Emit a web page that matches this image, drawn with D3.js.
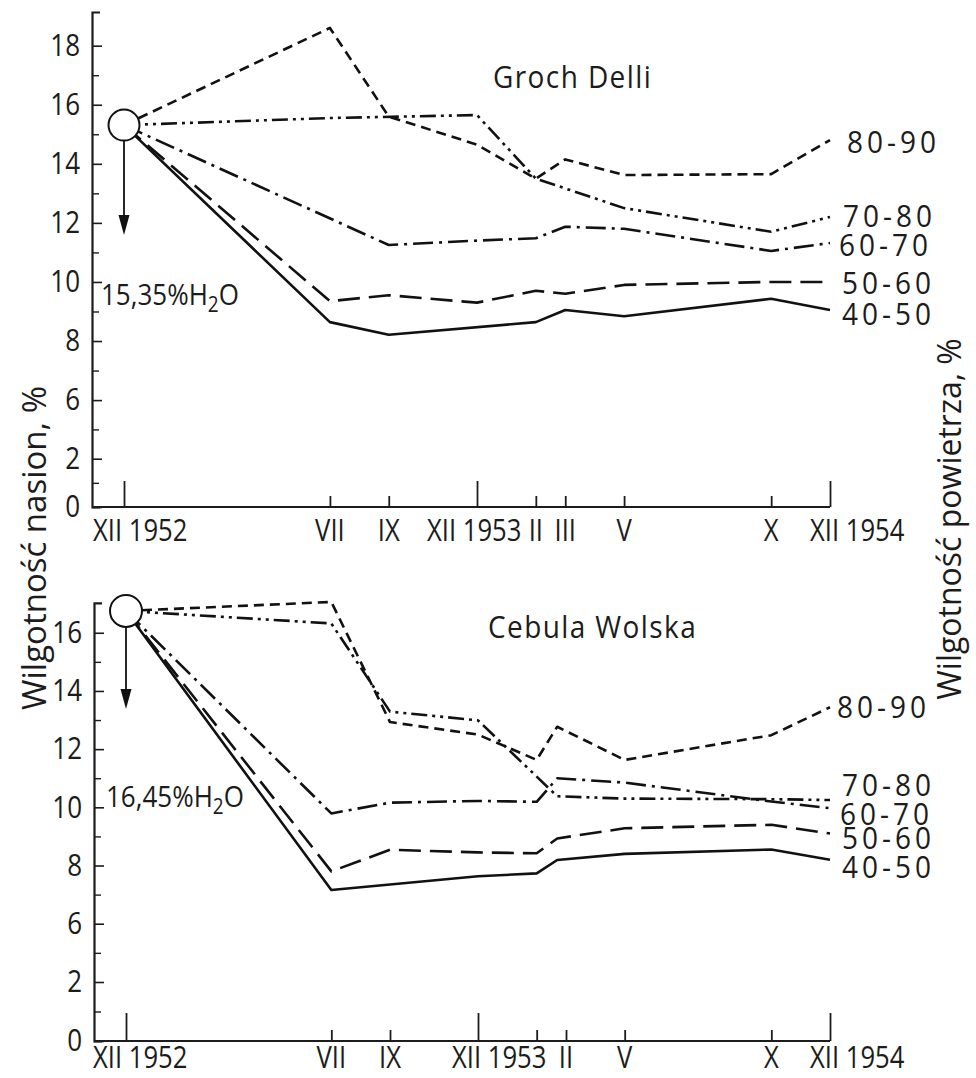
<!DOCTYPE html>
<html><head><meta charset="utf-8">
<script src="https://cdn.jsdelivr.net/npm/d3@7"></script>
<style>
body{margin:0;background:#fff}
svg{display:block}
text{font-family:"Open Sans","DejaVu Sans",sans-serif;fill:#1c1c1c}
</style>
</head><body>
<svg id="chart" width="976" height="1078"></svg>
<script>
// ---------- data ----------
const humidityClasses = ["40-50", "50-60", "60-70", "70-80", "80-90"];

// Groch Delli (top panel) – months counted from XII 1952
const monthsGroch = [0, 7, 9, 12, 14, 15, 17, 22, 24];
const groch4050 = [15.31, 8.64, 8.21, null, 8.64, 9.05, 8.84, 9.43, 9.05];
const groch5060 = [15.31, 9.35, 9.55, 9.30, 9.70, 9.60, 9.90, 10.0, 10.0];
const groch6070 = [15.31, null, 11.25, 11.40, 11.48, 11.87, 11.80, 11.05, 11.32];
const groch7080 = [15.31, 15.55, null, 15.65, 13.50, null, 12.50, 11.70, 12.20];
const groch8090 = [15.31, 18.60, 15.60, 14.65, 13.50, 14.15, 13.62, 13.65, 14.80];

// Cebula Wolska (bottom panel)
const monthsCebula = [0, 7, 9, 12, 14, 14.7, 17, 22, 24];
const cebula4050 = [16.75, 7.16, null, 7.63, 7.73, 8.19, 8.40, 8.55, 8.20];
const cebula5060 = [16.75, 7.80, 8.54, 8.45, 8.42, 8.93, 9.28, 9.40, 9.10];
const cebula6070 = [16.75, 9.79, 10.16, 10.22, 10.19, 11.00, 10.85, 10.20, 9.97];
const cebula7080 = [16.75, 16.32, 13.29, 12.99, null, 10.38, 10.30, 10.28, 10.25];
const cebula8090 = [16.75, 17.06, 12.93, 12.50, 11.63, 12.77, 11.63, 12.48, 13.44];

// axis ticks
const xTickMonths = [0, 7, 9, 12, 14, 15, 17, 22, 24];
const xYearMonths = [0, 12, 24];
const xLabelMonthsGroch = [0, 7, 9, 12, 14, 15, 17, 22, 24];
const xLabelsGroch = ["XII 1952", "VII", "IX", "XII 1953", "II", "III", "V", "X", "XII 1954"];
const xLabelMonthsCebula = [0, 7, 9, 12, 15, 17, 22, 24];
const xLabelsCebula = ["XII 1952", "VII", "IX", "XII 1953", "II", "V", "X", "XII 1954"];
const yMajorGroch = [0, 2, 6, 8, 10, 12, 14, 16, 18];
const yMinorGroch = [1, 4, 7, 9, 11, 13, 15, 17];
const yMajorCebula = [0, 2, 6, 8, 10, 12, 14, 16];
const yMinorCebula = [1, 4, 7, 9, 11, 13, 15];

const titleGroch = "Groch Delli";
const titleCebula = "Cebula Wolska";
const initialGroch = "15,35";
const initialCebula = "16,45";
const yTitleLeft = "Wilgotność nasion, %";
const yTitleRight = "Wilgotność powietrza, %";

// ---------- styles ----------
const dashes = {"40-50": null, "50-60": "22,9", "60-70": "20,6,3,6", "70-80": "16,5,3,5,3,5", "80-90": "10,6"};
const SY = 1.18; // tall, narrow technical lettering

const svg = d3.select("#chart");

function addText(g, x, y, str, size, opts = {}) {
  const sx = opts.sx || 1, sy = opts.sy || 1;
  return g.append("text")
    .attr("transform", `translate(${x},${y}) scale(${sx},${sy})`)
    .attr("text-anchor", opts.anchor || "start")
    .style("font-size", size + "px")
    .style("letter-spacing", (opts.ls || 0) + "px")
    .text(str);
}

function panel(cfg) {
  const g = svg.append("g");
  const x = d3.scaleLinear().domain([0, 24]).range(cfg.xRange);
  const y = d3.scaleLinear().domain(cfg.yDomain).range(cfg.yRange);
  const base = y(0);

  // y axis (major, labelled)
  const ya = g.append("g").attr("transform", `translate(${cfg.x0},0)`)
    .call(d3.axisLeft(y).tickValues(cfg.yMajor).tickSizeInner(-10).tickSizeOuter(-8).tickPadding(12));
  ya.attr("font-family", null).attr("font-size", null);
  ya.select(".domain").attr("stroke", "#1c1c1c").attr("stroke-width", 2.2);
  ya.selectAll(".tick line").attr("stroke", "#1c1c1c").attr("stroke-width", 1.6);
  ya.selectAll(".tick text").style("font-size", "26px").attr("fill", "#1c1c1c")
    .attr("transform", `scale(1,${SY})`);
  // minor
  const ym = g.append("g").attr("transform", `translate(${cfg.x0},0)`)
    .call(d3.axisLeft(y).tickValues(cfg.yMinor).tickSizeInner(-7).tickSizeOuter(0).tickFormat(""));
  ym.select(".domain").remove();
  ym.selectAll(".tick line").attr("stroke", "#1c1c1c").attr("stroke-width", 1.4);

  // x axis baseline
  g.append("line").attr("x1", cfg.x0).attr("x2", x(24)).attr("y1", base).attr("y2", base)
    .attr("stroke", "#1c1c1c").attr("stroke-width", 2.2);
  // month ticks
  const xm = g.append("g").attr("transform", `translate(0,${base})`)
    .call(d3.axisBottom(x).tickValues(xTickMonths.filter(m => !xYearMonths.includes(m)))
      .tickSizeInner(-11).tickSizeOuter(0).tickFormat(""));
  xm.select(".domain").remove();
  xm.selectAll(".tick line").attr("stroke", "#1c1c1c").attr("stroke-width", 1.8);
  const xy = g.append("g").attr("transform", `translate(0,${base})`)
    .call(d3.axisBottom(x).tickValues(xYearMonths).tickSizeInner(-cfg.yearTick).tickSizeOuter(0).tickFormat(""));
  xy.select(".domain").remove();
  xy.selectAll(".tick line").attr("stroke", "#1c1c1c").attr("stroke-width", 1.8);

  // x labels
  cfg.xLabels.forEach((d, i) => {
    const m = cfg.xLabelMonths[i];
    const isYear = d.includes(" ");
    addText(g, x(m) + (isYear ? cfg.yearDx[m] : 0), base + cfg.xLabelDy, d, 27,
      {anchor: isYear ? "start" : "middle", sx: 0.95, sy: SY});
  });

  // lines
  const line = d3.line().x(d => x(d.m)).y(d => y(d.v));
  humidityClasses.forEach((cls, k) => {
    const pts = cfg.months.map((m, i) => ({m, v: cfg.series[k][i]})).filter(d => d.v != null);
    g.append("path").datum(pts).attr("d", line)
      .attr("fill", "none").attr("stroke", "#111").attr("stroke-width", 2.6)
      .attr("stroke-linejoin", "round")
      .attr("stroke-dasharray", dashes[cls]);
    // class labels
    addText(g, cfg.labelX[k], cfg.labelY[k], cls, 28, {sy: 1.1, ls: 4});
  });

  // initial point circle + arrow
  const cx = x(0), cy = y(cfg.series[0][0]);
  g.append("line").attr("x1", cx).attr("x2", cx).attr("y1", cy).attr("y2", cy + cfg.arrowLen - 18)
    .attr("stroke", "#111").attr("stroke-width", 1.8);
  g.append("path")
    .attr("d", `M${cx - 5.5},${cy + cfg.arrowLen - 20} L${cx + 5.5},${cy + cfg.arrowLen - 20} L${cx},${cy + cfg.arrowLen} Z`)
    .attr("fill", "#111");
  g.append("circle").attr("cx", cx).attr("cy", cy).attr("r", cfg.r)
    .attr("fill", "#fff").attr("stroke", "#111").attr("stroke-width", 2);

  // initial moisture text
  const t = g.append("text")
    .attr("transform", `translate(${cfg.initX},${cfg.initY}) scale(1,1.12)`)
    .style("font-size", "26px");
  t.append("tspan").text(cfg.initial + "%H");
  t.append("tspan").attr("dy", 6).style("font-size", "19px").text("2");
  t.append("tspan").attr("dy", -6).text("O");

  // title
  addText(g, cfg.titleX, cfg.titleY, cfg.title, 28, {sy: 1.12, ls: 1.4});
}

panel({
  x0: 92, xRange: [124, 830],
  yDomain: [0, 2, 6, 19.14], yRange: [507, 458.7, 400.1, 12],
  yMajor: yMajorGroch, yMinor: yMinorGroch,
  yearTick: 26, xLabelDy: 34,
  xLabels: xLabelsGroch, xLabelMonths: xLabelMonthsGroch,
  yearDx: {0: -31, 12: -50, 24: -20},
  months: monthsGroch,
  series: [groch4050, groch5060, groch6070, groch7080, groch8090],
  labelX: [842, 842, 839, 843, 847], labelY: [325, 294, 256, 227, 153],
  r: 15.5, arrowLen: 110,
  initial: initialGroch, initX: 101, initY: 305,
  title: titleGroch, titleX: 493, titleY: 88
});

panel({
  x0: 94, xRange: [126, 830],
  yDomain: [0, 2, 6, 17.03], yRange: [1041, 982, 923.7, 602.8],
  yMajor: yMajorCebula, yMinor: yMinorCebula,
  yearTick: 28, xLabelDy: 27,
  xLabels: xLabelsCebula, xLabelMonths: xLabelMonthsCebula,
  yearDx: {0: -33, 12: -26, 24: -20},
  months: monthsCebula,
  series: [cebula4050, cebula5060, cebula6070, cebula7080, cebula8090],
  labelX: [842, 842, 840, 842, 837], labelY: [878, 849, 825, 796, 718],
  r: 16, arrowLen: 98,
  initial: initialCebula, initX: 106, initY: 807,
  title: titleCebula, titleX: 488, titleY: 638
});

// axis titles
svg.append("text").attr("transform", "translate(46,548) rotate(-90)")
  .attr("text-anchor", "middle").style("font-size", "33px").text(yTitleLeft);
svg.append("text").attr("transform", "translate(961,519) rotate(-90)")
  .attr("text-anchor", "middle").style("font-size", "32px").text(yTitleRight);
</script>
</body></html>
